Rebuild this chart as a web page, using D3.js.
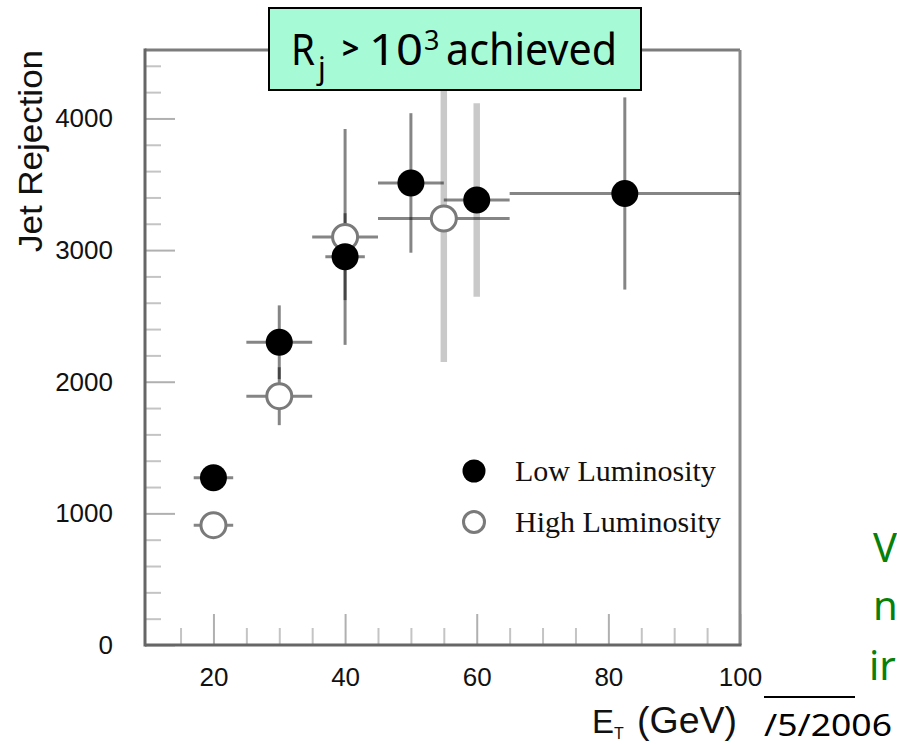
<!DOCTYPE html>
<html>
<head>
<meta charset="utf-8">
<script src="https://cdn.jsdelivr.net/npm/d3@7"></script>
<style>
  body { margin: 0; background: #fff; }
  svg { display: block; }
</style>
</head>
<body>
<script>
// Jet rejection vs. transverse energy, low and high luminosity samples
const lowEt      = [20, 30, 40, 50, 60, 82.5];
const lowEtErr   = [3, 5, 3, 5, 5, 17.5];
const lowRej     = [1270, 2300, 2950, 3510, 3380, 3430];
const lowRejErr  = [80, 280, 330, 530, 735, 730];
const lowSyst    = [false, false, false, false, true, false];

const highEt     = [20, 30, 40, 55];
const highEtErr  = [3, 5, 5, 10];
const highRej    = [910, 1890, 3100, 3240];
const highRejErr = [80, 220, 820, 1090];
const highSyst   = [false, false, false, true];

const xMajorTicks = [20, 40, 60, 80, 100];
const yMajorTicks = [0, 1000, 2000, 3000, 4000];
const seriesNames = ["Low Luminosity", "High Luminosity"];

const W = 897, H = 744;
const svg = d3.select("body").append("svg").attr("width", W).attr("height", H);
svg.append("rect").attr("width", W).attr("height", H).attr("fill", "#fff");

const x = d3.scaleLinear().domain([9.6, 100]).range([145, 740]);
const y = d3.scaleLinear().domain([0, 4520]).range([645, 50]);

const xMinor = d3.range(15, 100, 5).filter(v => v % 20 !== 0);
const yMinor = d3.range(200, 4520, 200).filter(v => v % 1000 !== 0);

const tickFont = "'Liberation Sans', Arial, sans-serif";

// minor ticks
svg.append("g").attr("transform", "translate(0,645)")
  .call(d3.axisBottom(x).tickValues(xMinor).tickSize(-17).tickFormat(""))
  .call(g => g.select(".domain").remove())
  .call(g => g.selectAll("line").attr("stroke", "#c4c4c4").attr("stroke-width", 2));
svg.append("g").attr("transform", "translate(145,0)")
  .call(d3.axisLeft(y).tickValues(yMinor).tickSize(-16).tickFormat(""))
  .call(g => g.select(".domain").remove())
  .call(g => g.selectAll("line").attr("stroke", "#c4c4c4").attr("stroke-width", 2));

// major ticks with labels
svg.append("g").attr("transform", "translate(0,645)")
  .call(d3.axisBottom(x).tickValues(xMajorTicks).tickSize(-31).tickPadding(23).tickFormat(d3.format("d")))
  .call(g => g.select(".domain").remove())
  .call(g => g.selectAll("line").attr("stroke", "#b0b0b0").attr("stroke-width", 2))
  .call(g => g.selectAll("text").attr("font-size", 26).attr("font-family", tickFont).attr("fill", "#111"));
svg.append("g").attr("transform", "translate(145,0)")
  .call(d3.axisLeft(y).tickValues(yMajorTicks).tickSize(-30).tickPadding(32).tickFormat(d3.format("d")))
  .call(g => g.select(".domain").remove())
  .call(g => g.selectAll("line").attr("stroke", "#b0b0b0").attr("stroke-width", 2))
  .call(g => g.selectAll("text").attr("font-size", 26).attr("font-family", tickFont).attr("fill", "#111"));

// frame
const [x0, x1] = x.range(), [yb, yt] = y.range();
svg.append("line").attr("x1", x0).attr("x2", x1).attr("y1", yt).attr("y2", yt).attr("stroke", "#7c7c7c").attr("stroke-width", 3);
svg.append("line").attr("x1", x1).attr("x2", x1).attr("y1", yt).attr("y2", yb).attr("stroke", "#888").attr("stroke-width", 3);
svg.append("line").attr("x1", x0).attr("x2", x0).attr("y1", yt - 1.5).attr("y2", yb + 1.5).attr("stroke", "#666").attr("stroke-width", 3);
svg.append("line").attr("x1", x0).attr("x2", x1 + 1.5).attr("y1", yb).attr("y2", yb).attr("stroke", "#666").attr("stroke-width", 3);

// series as row objects
function rows(et, etErr, rej, rejErr, syst) {
  return et.map((e, i) => ({ et: e, ex: etErr[i], v: rej[i], ev: rejErr[i], syst: syst[i] }));
}
const low = rows(lowEt, lowEtErr, lowRej, lowRejErr, lowSyst);
const high = rows(highEt, highEtErr, highRej, highRejErr, highSyst);

function errorBars(data) {
  const g = svg.append("g");
  g.selectAll("line.v").data(data).join("line").attr("class", "v")
    .attr("x1", d => x(d.et)).attr("x2", d => x(d.et))
    .attr("y1", d => y(d.v - d.ev)).attr("y2", d => y(d.v + d.ev))
    .attr("stroke", "#000")
    .attr("stroke-opacity", d => d.syst ? 0.21 : 0.48)
    .attr("stroke-width", d => d.syst ? 6.5 : 3);
  g.selectAll("line.h").data(data).join("line").attr("class", "h")
    .attr("x1", d => x(d.et - d.ex)).attr("x2", d => x(d.et + d.ex))
    .attr("y1", d => y(d.v)).attr("y2", d => y(d.v))
    .attr("stroke", "#000").attr("stroke-opacity", 0.48).attr("stroke-width", 3);
}
errorBars(high);
errorBars(low);

// markers: open for high luminosity, filled for low luminosity
svg.append("g").selectAll("circle").data(high).join("circle")
  .attr("cx", d => x(d.et)).attr("cy", d => y(d.v)).attr("r", 12.5)
  .attr("fill", "#fff").attr("stroke", "#7a7a7a").attr("stroke-width", 3);
svg.append("g").selectAll("circle").data(low).join("circle")
  .attr("cx", d => x(d.et)).attr("cy", d => y(d.v)).attr("r", 13.5)
  .attr("fill", "#000");

// legend
const legendFont = "'Liberation Serif', 'Times New Roman', serif";
const leg = svg.append("g");
leg.append("circle").attr("cx", 474).attr("cy", 471).attr("r", 11.5).attr("fill", "#000");
leg.append("circle").attr("cx", 474).attr("cy", 522).attr("r", 10.5)
  .attr("fill", "#fff").attr("stroke", "#7a7a7a").attr("stroke-width", 3);
leg.selectAll("text").data(seriesNames).join("text")
  .attr("x", 515).attr("y", (d, i) => 481 + i * 51)
  .attr("font-family", legendFont).attr("font-size", 30).attr("fill", "#111")
  .text(d => d);

// axis titles
svg.append("text")
  .attr("transform", "translate(42,252) rotate(-90)")
  .attr("font-family", tickFont).attr("font-size", 34).attr("fill", "#111")
  .attr("textLength", 202).attr("lengthAdjust", "spacingAndGlyphs")
  .text("Jet Rejection");
const xt = svg.append("g").attr("font-family", tickFont).attr("fill", "#111");
xt.append("text").attr("x", 592).attr("y", 733).attr("font-size", 33).text("E");
xt.append("text").attr("x", 614).attr("y", 739).attr("font-size", 16).text("T");
xt.append("text").attr("x", 637).attr("y", 733).attr("font-size", 36)
  .attr("textLength", 100).attr("lengthAdjust", "spacingAndGlyphs").text("(GeV)");

// headline box
const boxFont = "'Noto Sans', 'Open Sans', sans-serif";
svg.append("rect").attr("x", 269).attr("y", 8).attr("width", 372).attr("height", 82)
  .attr("fill", "#a6fbd6").attr("stroke", "#000").attr("stroke-width", 2);
const hb = svg.append("g").attr("font-family", boxFont).attr("fill", "#000");
hb.append("text").attr("x", 291).attr("y", 65).attr("font-size", 44)
  .attr("textLength", 24).attr("lengthAdjust", "spacingAndGlyphs").text("R");
hb.append("text").attr("x", 318).attr("y", 79).attr("font-size", 30).text("j");
hb.append("text").attr("x", 342).attr("y", 59).attr("font-size", 30).attr("font-weight", "bold").text(">");
hb.append("text").attr("x", 369).attr("y", 65).attr("font-size", 44)
  .attr("textLength", 54).attr("lengthAdjust", "spacingAndGlyphs").text("10");
hb.append("text").attr("x", 424).attr("y", 50).attr("font-size", 27).text("3");
hb.append("text").attr("x", 446).attr("y", 65).attr("font-size", 44)
  .attr("textLength", 171).attr("lengthAdjust", "spacingAndGlyphs").text("achieved");

// slide margin text
const side = svg.append("g").attr("font-family", boxFont).attr("fill", "#078007").attr("font-size", 40);
side.append("text").attr("x", 873).attr("y", 562).text("V");
side.append("text").attr("x", 873).attr("y", 620).text("n");
side.append("text").attr("x", 869).attr("y", 680).text("ir");

svg.append("line").attr("x1", 764).attr("x2", 855).attr("y1", 697).attr("y2", 697)
  .attr("stroke", "#000").attr("stroke-width", 2);
svg.append("text").attr("x", 764).attr("y", 736).attr("font-family", boxFont)
  .attr("font-size", 30).attr("fill", "#000")
  .attr("textLength", 128).attr("lengthAdjust", "spacingAndGlyphs").text("/5/2006");
</script>
</body>
</html>
